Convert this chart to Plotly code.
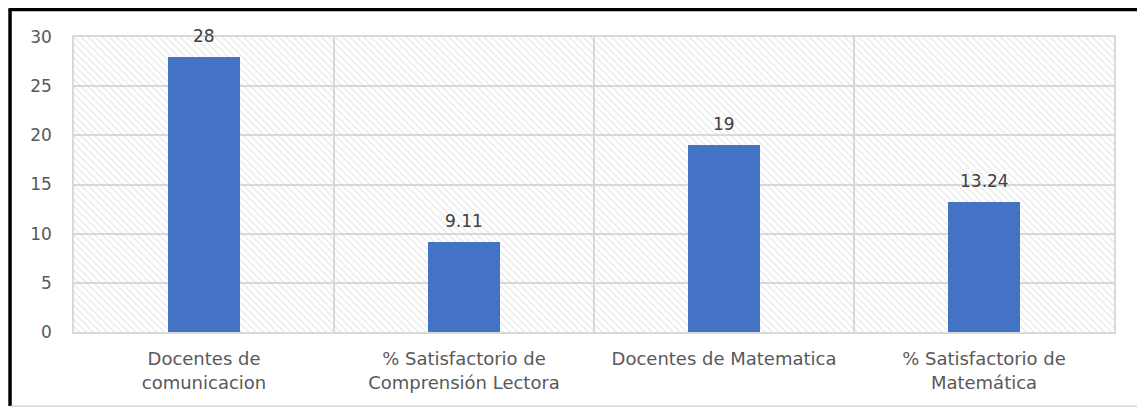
import plotly.graph_objects as go

categories = ["Docentes de<br>comunicacion",
              "% Satisfactorio de<br>Comprensión Lectora",
              "Docentes de Matematica",
              "% Satisfactorio de<br>Matemática"]
values = [28, 9.11, 19, 13.24]
value_labels = ["28", "9.11", "19", "13.24"]
y_max = 30
y_ticks = [0, 5, 10, 15, 20, 25, 30]

font_family = "DejaVu Sans, sans-serif"
text_color = "#595959"
grid_color = "#d9d9d9"

fig = go.Figure()

# hatched plot background, one full-width block per category
fig.add_trace(go.Bar(
    x=categories, y=[y_max] * len(categories), width=1,
    marker=dict(color="rgba(0,0,0,0)", line=dict(width=0),
                pattern=dict(shape="\\", fgcolor="#cfcfcf", bgcolor="rgba(0,0,0,0)",
                             size=5, solidity=0.25)),
    hoverinfo="skip", showlegend=False))

fig.add_trace(go.Bar(
    x=categories, y=values, width=0.275,
    marker=dict(color="#4472c4", line=dict(width=0)),
    showlegend=False, name=""))

for c, v, t in zip(categories, values, value_labels):
    fig.add_annotation(x=c, y=v, text=t, showarrow=False, yanchor="bottom",
                       yshift=9, font=dict(size=17, color="#404040", family=font_family))

# outer frame: thick black left/top, thin grey right/bottom
fig.add_shape(type="line", xref="paper", yref="paper", x0=-0.0615, x1=-0.0615, y0=-0.251, y1=1.093,
              line=dict(color="black", width=3.5))
fig.add_shape(type="line", xref="paper", yref="paper", x0=-0.063, x1=1.028, y0=1.093, y1=1.093,
              line=dict(color="black", width=3.5))
fig.add_shape(type="line", xref="paper", yref="paper", x0=1.028, x1=1.028, y0=-0.251, y1=1.093,
              line=dict(color="#bfbfbf", width=1))
fig.add_shape(type="line", xref="paper", yref="paper", x0=-0.0615, x1=1.028, y0=-0.251, y1=-0.251,
              line=dict(color="#bfbfbf", width=1))

fig.update_layout(
    width=1137, height=400,
    margin=dict(l=66, r=31, t=29, b=76),
    barmode="overlay", bargap=0,
    plot_bgcolor="white", paper_bgcolor="white",
    font=dict(family=font_family, size=17, color=text_color),
)
fig.update_xaxes(type="category", tickson="boundaries", showgrid=True, gridcolor=grid_color,
                 gridwidth=1.5, showline=True, linecolor=grid_color, linewidth=1.5, mirror=True,
                 ticks="", automargin=False, ticklabelstandoff=10,
                 tickfont=dict(size=18, color=text_color))
fig.update_yaxes(range=[0, y_max], tickvals=y_ticks, showgrid=True, gridcolor=grid_color,
                 gridwidth=1.5, showline=True, linecolor=grid_color, linewidth=1.5, mirror=True,
                 ticks="", ticklabelstandoff=17, zeroline=False, automargin=False,
                 tickfont=dict(size=17, color=text_color))

fig.write_html("out.html")
